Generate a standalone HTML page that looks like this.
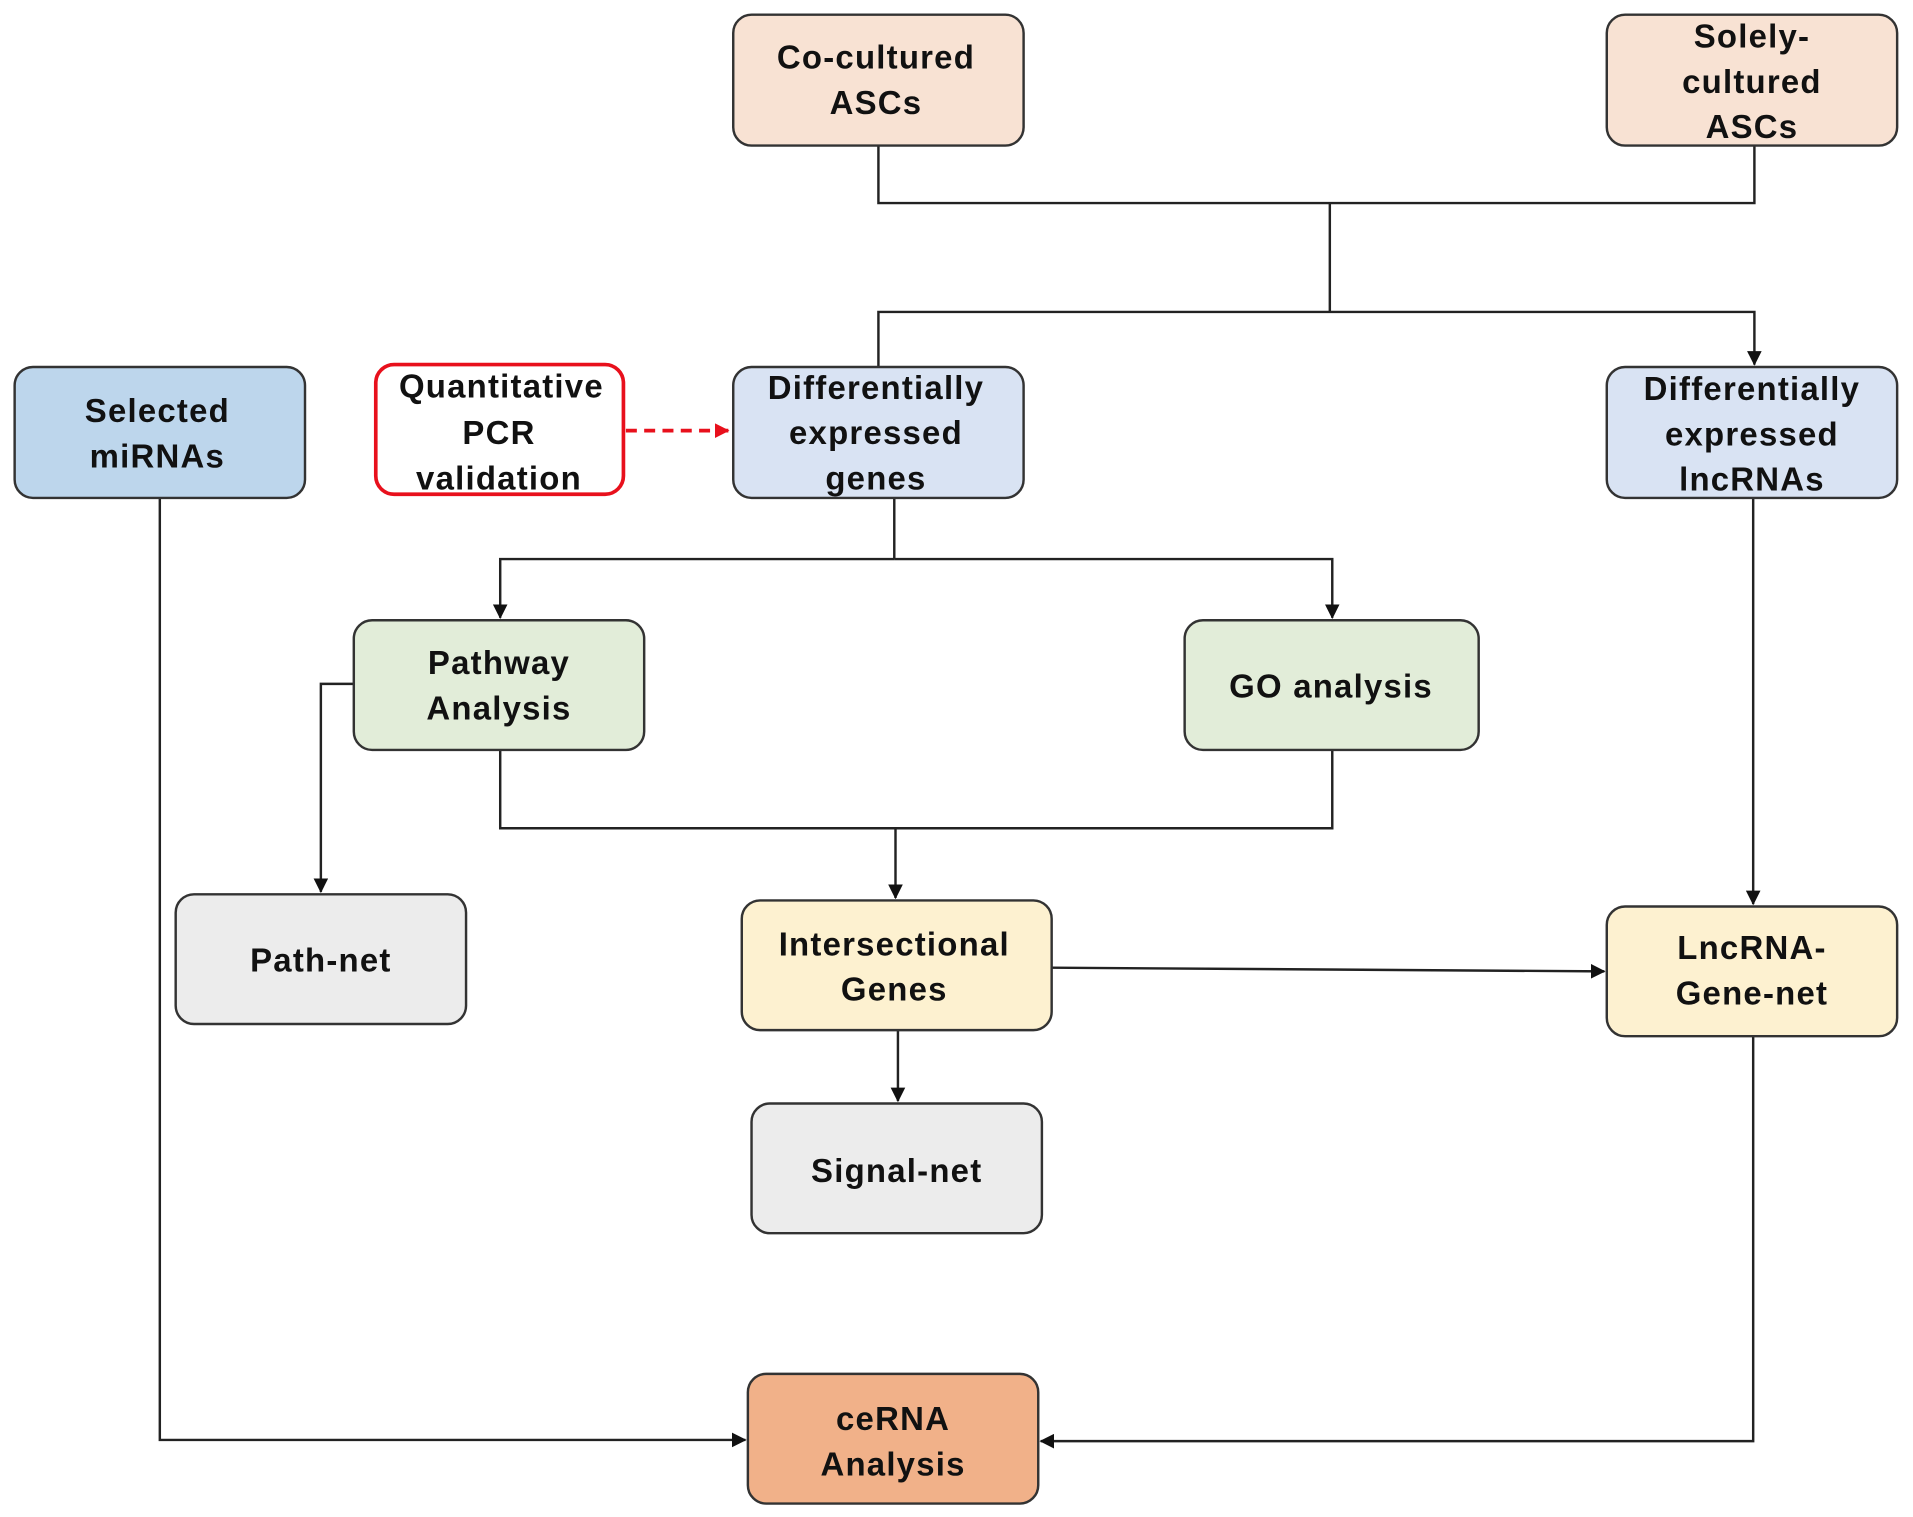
<!DOCTYPE html>
<html><head><style>html,body{margin:0;padding:0;background:#fff}svg{display:block}</style></head>
<body>
<svg width="1913" height="1517" viewBox="0 0 1568 1240" preserveAspectRatio="none" xmlns="http://www.w3.org/2000/svg">
<defs>
<marker id="a" markerWidth="12" markerHeight="12" refX="11" refY="6" orient="auto" markerUnits="userSpaceOnUse"><path d="M0,0 L12,6 L0,12 z" fill="#111"/></marker>
<marker id="r" markerWidth="12" markerHeight="12" refX="11" refY="6" orient="auto" markerUnits="userSpaceOnUse"><path d="M0,0 L12,6 L0,12 z" fill="#e8101c"/></marker>
</defs>
<g fill="none" stroke="#222" stroke-width="2">
<path d="M720,119 V166 H1438 V119"/>
<path d="M1090,166 V255"/>
<path d="M720,300 V255 H1438 V298" marker-end="url(#a)"/>
<path d="M733,407 V457"/>
<path d="M733,457 H410 V505" marker-end="url(#a)"/>
<path d="M733,457 H1092 V505" marker-end="url(#a)"/>
<path d="M290,559 H263 V729" marker-end="url(#a)"/>
<path d="M410,613 V677 H1092 V613"/>
<path d="M734,677 V734" marker-end="url(#a)"/>
<path d="M862,791 L1315,794" marker-end="url(#a)"/>
<path d="M736,842 V900" marker-end="url(#a)"/>
<path d="M1437,407 V739" marker-end="url(#a)"/>
<path d="M131,407 V1177 H611" marker-end="url(#a)"/>
<path d="M1437,847 V1178 H853" marker-end="url(#a)"/>
</g>
<path d="M513,352 H597" stroke="#e8101c" stroke-width="3" stroke-dasharray="9,6" fill="none" marker-end="url(#r)"/>
<g stroke="#333" stroke-width="2">
<rect x="601" y="12" width="238" height="107" rx="15" fill="#f8e2d3"/>
<rect x="1317" y="12" width="238" height="107" rx="15" fill="#f8e2d3"/>
<rect x="12" y="300" width="238" height="107" rx="15" fill="#bdd6ec"/>
<rect x="308" y="298" width="203" height="106" rx="15" fill="#fff" stroke="#e8101c" stroke-width="3"/>
<rect x="601" y="300" width="238" height="107" rx="15" fill="#d9e3f3"/>
<rect x="1317" y="300" width="238" height="107" rx="15" fill="#d9e3f3"/>
<rect x="290" y="507" width="238" height="106" rx="15" fill="#e2edd9"/>
<rect x="971" y="507" width="241" height="106" rx="15" fill="#e2edd9"/>
<rect x="144" y="731" width="238" height="106" rx="15" fill="#ececec"/>
<rect x="608" y="736" width="254" height="106" rx="15" fill="#fdf1d0"/>
<rect x="1317" y="741" width="238" height="106" rx="15" fill="#fdf1d0"/>
<rect x="616" y="902" width="238" height="106" rx="15" fill="#ececec"/>
<rect x="613" y="1123" width="238" height="106" rx="15" fill="#f1b189"/>
</g>
<g font-family="Liberation Sans, sans-serif" font-weight="bold" font-size="27" letter-spacing="1" fill="#111" text-anchor="middle">
<text x="718" y="56">Co-cultured</text><text x="718" y="93">ASCs</text>
<text x="1436" y="39">Solely-</text><text x="1436" y="76">cultured</text><text x="1436" y="113">ASCs</text>
<text x="129" y="345">Selected</text><text x="129" y="382">miRNAs</text>
<text x="411" y="325">Quantitative</text><text x="409" y="363">PCR</text><text x="409" y="400">validation</text>
<text x="718" y="326">Differentially</text><text x="718" y="363">expressed</text><text x="718" y="400">genes</text>
<text x="1436" y="327">Differentially</text><text x="1436" y="364">expressed</text><text x="1436" y="401">lncRNAs</text>
<text x="409" y="551">Pathway</text><text x="409" y="588">Analysis</text>
<text x="1091" y="570">GO analysis</text>
<text x="263" y="794">Path-net</text>
<text x="733" y="781">Intersectional</text><text x="733" y="818">Genes</text>
<text x="1436" y="784">LncRNA-</text><text x="1436" y="821">Gene-net</text>
<text x="735" y="966">Signal-net</text>
<text x="732" y="1169">ceRNA</text><text x="732" y="1206">Analysis</text>
</g>
</svg>
</body></html>
